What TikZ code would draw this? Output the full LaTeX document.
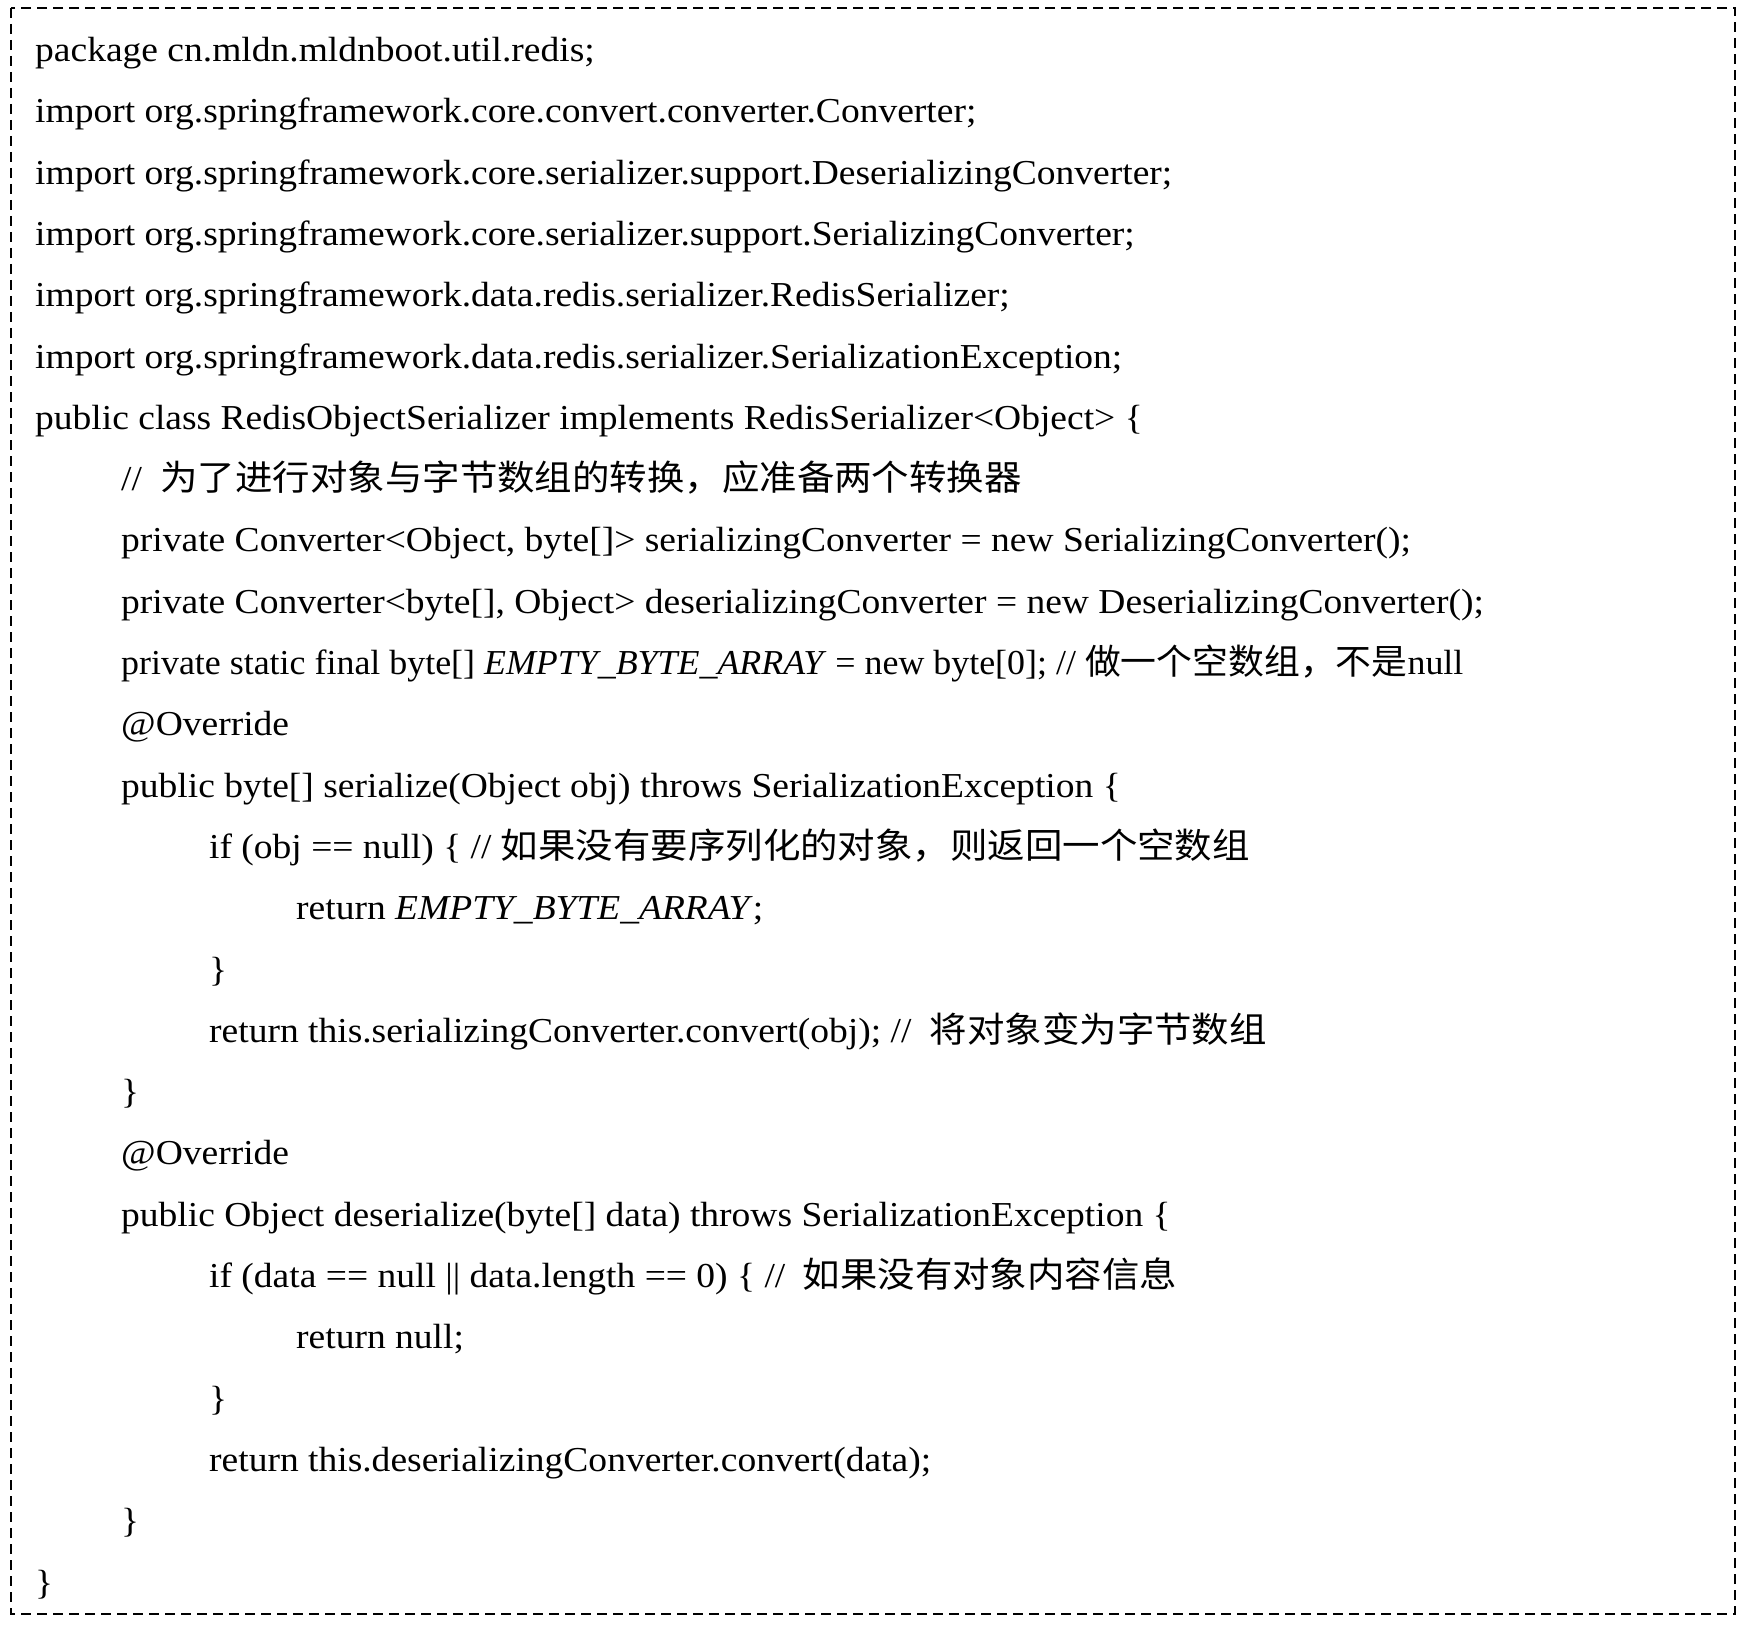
\documentclass[tikz,border=0pt]{standalone}
\usepackage{fontspec}
\setmainfont[FakeStretch=1.072]{Liberation Serif}
\newfontfamily\cjk[FakeStretch=1.07]{Noto Sans CJK SC}
\usetikzlibrary{positioning}

\tikzset{
  codeline/.style={anchor=base west, inner sep=0pt, font=\fontsize{35}{42}\selectfont},
  squeezed/.style={xscale=0.957, transform shape},
  frame/.style={line width=2.5pt, dash pattern=on 10pt off 6pt}
}

\begin{document}
\begin{tikzpicture}[x=1pt, y=-1pt]
\useasboundingbox (0,0) rectangle (1751,1629);
\draw[frame] (11,8) rectangle (1735,1614);
\node[codeline] (pkg)   at (35,61.5)   {package cn.mldn.mldnboot.util.redis;};
\node[codeline] (imp1)  at (35,122.8)  {import org.springframework.core.convert.converter.Converter;};
\node[codeline] (imp2)  at (35,184.1)  {import org.springframework.core.serializer.support.DeserializingConverter;};
\node[codeline] (imp3)  at (35,245.4)  {import org.springframework.core.serializer.support.SerializingConverter;};
\node[codeline] (imp4)  at (35,306.7)  {import org.springframework.data.redis.serializer.RedisSerializer;};
\node[codeline] (imp5)  at (35,368.0)  {import org.springframework.data.redis.serializer.SerializationException;};
\node[codeline] (cls)   at (35,429.3)  {public class RedisObjectSerializer implements RedisSerializer<Object> \{};
\node[codeline] (cmt)   at (121,490.6) {// \hspace{9pt}{\cjk 为了进行对象与字节数组的转换，应准备两个转换器}};
\node[codeline] (ser)   at (121,551.9) {private Converter<Object, byte[]> serializingConverter = new SerializingConverter();};
\node[codeline] (deser) at (121,613.2) {private Converter<byte[], Object> deserializingConverter = new DeserializingConverter();};
\node[codeline, squeezed] (empty) at (121,674.5) {private static final byte[] \textit{EMPTY\_BYTE\_ARRAY} = new byte[0]; // {\cjk 做一个空数组，不是}null};
\node[codeline] (ovr1)  at (121,735.8) {@Override};
\node[codeline] (sm)    at (121,797.1) {public byte[] serialize(Object obj) throws SerializationException \{};
\node[codeline] (sif)   at (209,858.4) {if (obj == null) \{ // {\cjk 如果没有要序列化的对象，则返回一个空数组}};
\node[codeline] (sret1) at (296,919.7) {return \textit{EMPTY\_BYTE\_ARRAY};};
\node[codeline] (sifc)  at (209,981.0) {\}};
\node[codeline] (sret2) at (209,1042.3) {return this.serializingConverter.convert(obj); // \hspace{9pt}{\cjk 将对象变为字节数组}};
\node[codeline] (smc)   at (121,1103.6) {\}};
\node[codeline] (ovr2)  at (121,1164.9) {@Override};
\node[codeline] (dm)    at (121,1226.2) {public Object deserialize(byte[] data) throws SerializationException \{};
\node[codeline] (dif)   at (209,1287.5) {if (data == null || data.length == 0) \{ // \hspace{8pt}{\cjk 如果没有对象内容信息}};
\node[codeline] (dret1) at (296,1348.8) {return null;};
\node[codeline] (difc)  at (209,1410.1) {\}};
\node[codeline] (dret2) at (209,1471.4) {return this.deserializingConverter.convert(data);};
\node[codeline] (dmc)   at (121,1532.7) {\}};
\node[codeline] (clsc)  at (35,1594.0)  {\}};
\end{tikzpicture}
\end{document}
